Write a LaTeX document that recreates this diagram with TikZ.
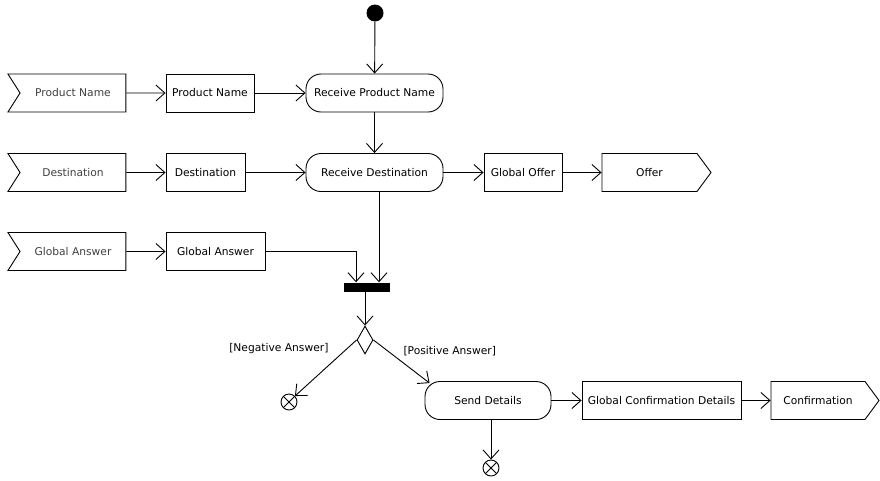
\documentclass[tikz,border=0pt]{standalone}
\usepackage{fontspec}
\setmainfont{DejaVu Sans}
\usetikzlibrary{arrows.meta,shapes.symbols,shapes.geometric}
\tikzstyle{base}=[draw,line width=0.9pt,minimum height=38pt,inner sep=4pt,font=\fontsize{10.7}{13}\selectfont]
\tikzstyle{action}=[base,rounded corners=15pt]
\tikzstyle{object}=[base,rectangle]
\tikzstyle{inpin}=[base,signal,signal from=west,signal to=nowhere,signal pointer angle=115,text=black!75]
\tikzstyle{outpin}=[base,signal,signal from=nowhere,signal to=east,signal pointer angle=107]
\tikzstyle{flow}=[line width=0.9pt,-{Straight Barb[length=9pt,width=16pt,line width=0.9pt]}]
\tikzstyle{flowfinal}=[draw,circle,line width=0.9pt,minimum size=16pt,inner sep=0pt,
  path picture={\draw[line width=0.9pt] (path picture bounding box.north west) -- (path picture bounding box.south east)
                (path picture bounding box.north east) -- (path picture bounding box.south west);}]
\tikzstyle{guard}=[font=\fontsize{10.7}{13}\selectfont]

\begin{document}
\begin{tikzpicture}[x=1pt,y=-1pt]
\useasboundingbox (0,0) rectangle (880,480);

% control nodes
\node[circle,fill=black,minimum size=17pt,inner sep=0pt] (start) at (375,13) {};
\node[fill=black,minimum width=46pt,minimum height=9pt,inner sep=0pt] (join) at (367,287) {};
\node[diamond,draw,line width=0.9pt,minimum width=16pt,minimum height=28pt,inner sep=0pt] (choice) at (365,340) {};
\node[flowfinal] (endNeg) at (289,402) {};
\node[flowfinal] (endSend) at (491,468) {};

% actions
\node[action,minimum width=137pt] (recvName) at (374.5,93) {Receive Product Name};
\node[action,minimum width=137pt] (recvDest) at (374.5,172.5) {Receive Destination};
\node[action,minimum width=126pt] (sendDetails) at (488,400.5) {Send Details};

% pins and object nodes
\node[inpin,minimum width=118pt] (pinName) at (73,93) {Product Name};
\node[inpin,minimum width=118pt] (pinDest) at (73,172.5) {Destination};
\node[inpin,minimum width=118pt] (pinAnswer) at (73,251.5) {Global Answer};
\node[object,minimum width=88pt] (objName) at (210,93) {Product Name};
\node[object,minimum width=79pt] (objDest) at (205.5,172.5) {Destination};
\node[object,minimum width=99pt] (objAnswer) at (215.5,251.5) {Global Answer};
\node[object,minimum width=78pt] (objOffer) at (523,172.5) {Global Offer};
\node[outpin,minimum width=109pt] (pinOffer) at (649.5,172.5) {Offer};
\node[object,minimum width=159pt] (objConfirm) at (661.5,400.5) {Global Confirmation Details};
\node[outpin,minimum width=108pt] (pinConfirm) at (818,400.5) {Confirmation};

\coordinate (joinL) at ([xshift=-11pt]join.north);
\coordinate (joinR) at ([xshift=12pt]join.north);

% flows
\draw[flow] (start) -- (recvName);
\draw[flow] (pinName) -- (objName);
\draw[flow] (objName) -- (recvName);
\draw[flow] (recvName) -- (recvDest);
\draw[flow] (pinDest) -- (objDest);
\draw[flow] (objDest) -- (recvDest);
\draw[flow] (recvDest) -- (objOffer);
\draw[flow] (objOffer) -- (pinOffer);
\draw[flow] (pinAnswer) -- (objAnswer);
\draw[flow] (objAnswer.east) -| (joinL);
\draw[flow] (recvDest.south -| joinR) -- (joinR);
\draw[flow] (join.south -| choice.north) -- (choice.north);
\draw[flow] (choice.west) -- (endNeg.45);
\draw[flow] (choice.east) -- ([xshift=5pt,yshift=-2pt]sendDetails.north west);
\draw[flow] (sendDetails.south -| endSend) -- (endSend.north);
\draw[flow] (sendDetails) -- (objConfirm);
\draw[flow] (objConfirm) -- (pinConfirm);

% guards
\node[guard,anchor=east] (negLabel) at (332,349) {[Negative Answer]};
\node[guard,anchor=west] (posLabel) at (400,351) {[Positive Answer]};
\end{tikzpicture}
\end{document}
